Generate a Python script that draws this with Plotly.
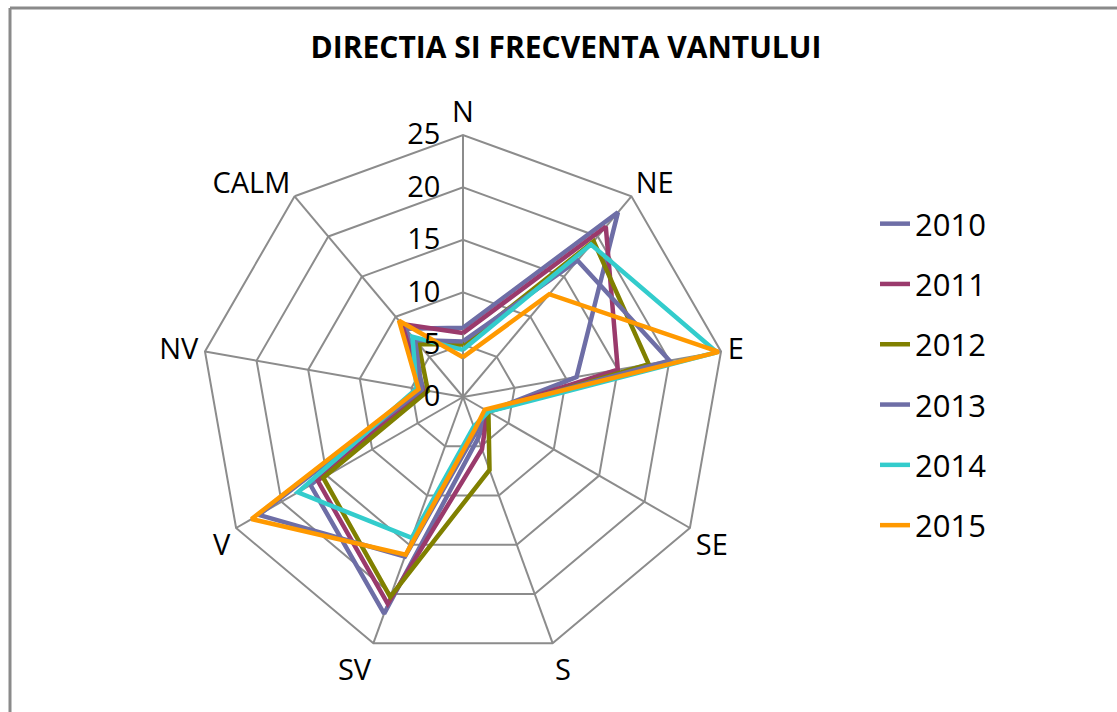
import plotly.graph_objects as go

# Wind directions (clockwise from north) plus calm
directions = ["N", "NE", "E", "SE", "S", "SV", "V", "NV", "CALM"]

# Frequency (%) per direction, one list per year
freq_2010 = [6.6, 23.0, 11.0, 2.8, 4.2, 22.0, 16.8, 3.8, 8.5]
freq_2011 = [6.1, 21.2, 15.0, 2.7, 5.3, 21.0, 16.0, 3.9, 9.1]
freq_2012 = [5.0, 19.4, 18.0, 2.8, 7.4, 20.3, 15.4, 3.4, 6.6]
freq_2013 = [5.3, 17.0, 20.0, 2.6, 3.6, 16.2, 22.5, 4.0, 7.1]
freq_2014 = [4.5, 19.0, 24.6, 2.8, 3.0, 14.3, 18.2, 4.5, 7.5]
freq_2015 = [3.8, 12.8, 24.8, 2.4, 3.3, 16.0, 23.3, 4.3, 9.5]

years = ["2010", "2011", "2012", "2013", "2014", "2015"]
series = [freq_2010, freq_2011, freq_2012, freq_2013, freq_2014, freq_2015]
colors = ["#6E6EA6", "#9A3A6C", "#808000", "#6E6EA6", "#33CCCC", "#FF9900"]

radial_ticks = [0, 5, 10, 15, 20, 25]

W, H = 1117, 712
cx, cy, R = 463, 397, 262  # polar centre and outer radius in pixels

fig = go.Figure()
for year, vals, col in zip(years, series, colors):
    fig.add_trace(go.Scatterpolar(
        r=vals + vals[:1],
        theta=directions + directions[:1],
        mode="lines",
        name=year,
        legendgroup=year,
        line=dict(color=col, width=4.5),
    ))

grid_col = "#8C8C8C"
fig.update_layout(
    width=W, height=H,
    margin=dict(l=0, r=0, t=0, b=0),
    paper_bgcolor="white",
    plot_bgcolor="white",
    font=dict(family="Open Sans", color="black"),
    title=dict(
        text="<b>DIRECTIA SI FRECVENTA VANTULUI</b>",
        x=566 / W, xanchor="center",
        y=1 - 47 / H, yanchor="middle",
        font=dict(family="Open Sans", size=30, color="black"),
    ),
    polar=dict(
        domain=dict(x=[(cx - R) / W, (cx + R) / W],
                    y=[1 - (cy + R) / H, 1 - (cy - R) / H]),
        gridshape="linear",
        bgcolor="white",
        angularaxis=dict(
            direction="clockwise",
            rotation=90,
            showline=True,
            linecolor=grid_col,
            linewidth=2,
            gridcolor=grid_col,
            gridwidth=2,
            ticks="",
            tickfont=dict(size=29, color="black"),
        ),
        radialaxis=dict(
            range=[0, 25],
            tickvals=radial_ticks,
            angle=90,
            tickangle=90,
            side="counterclockwise",
            showline=False,
            ticks="outside",
            ticklen=12,
            tickcolor="rgba(0,0,0,0)",
            gridcolor=grid_col,
            gridwidth=2,
            tickfont=dict(size=29, color="black"),
        ),
    ),
    legend=dict(
        x=875 / W, xanchor="left",
        y=1 - 197 / H, yanchor="top",
        font=dict(size=31, color="black"),
        tracegroupgap=17,
        bgcolor="rgba(0,0,0,0)",
    ),
    shapes=[
        dict(type="line", xref="paper", yref="paper",
             x0=10 / W, x1=10 / W, y0=0, y1=1 - 8 / H,
             line=dict(color="#8A8A8A", width=3)),
        dict(type="line", xref="paper", yref="paper",
             x0=10 / W, x1=1, y0=1 - 8 / H, y1=1 - 8 / H,
             line=dict(color="#8A8A8A", width=3)),
    ],
)

fig.write_html("out.html")
